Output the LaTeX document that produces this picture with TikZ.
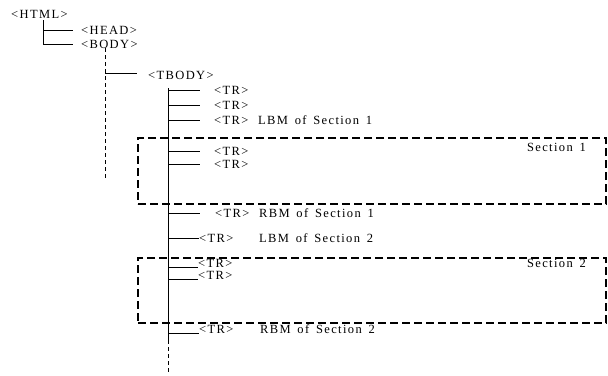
\documentclass[tikz,border=0pt]{standalone}
\usepackage{fontspec}
\setmainfont{Liberation Serif}[LetterSpace=11,WordSpace=1.5]
\begin{document}
\begin{tikzpicture}[x=1pt,y=-1pt,
  lbl/.style={anchor=west, inner sep=0pt, font=\fontsize{12.5}{14}\selectfont},
  branch/.style={line width=0.7pt},
  sect/.style={line width=2pt, dash pattern=on 8pt off 4pt},
  trunkdash/.style={line width=0.7pt, dash pattern=on 4pt off 3pt}]
\useasboundingbox (0,0) rectangle (608,375);
% texts
\node[lbl] (html) at (11,14) {<HTML>};
\node[lbl] (head) at (81,30) {<HEAD>};
\node[lbl] (body) at (81,44) {<BODY>};
\node[lbl] (tbody) at (148,75) {<TBODY>};
\node[lbl] (tr1) at (214,90) {<TR>};
\node[lbl] (tr2) at (214,105) {<TR>};
\node[lbl] (tr3) at (214,120) {<TR>};
\node[lbl] (lbm1) at (258,120) {LBM of Section 1};
\node[lbl] (tr4) at (214,151) {<TR>};
\node[lbl] (tr5) at (214,164) {<TR>};
\node[lbl] (tr6) at (215,213) {<TR>};
\node[lbl] (rbm1) at (259,213) {RBM of Section 1};
\node[lbl] (tr7) at (199,238) {<TR>};
\node[lbl] (lbm2) at (259,238) {LBM of Section 2};
\node[lbl] (tr8) at (198,263) {<TR>};
\node[lbl] (tr9) at (198,275) {<TR>};
\node[lbl] (tr10) at (199,329) {<TR>};
\node[lbl] (rbm2) at (260,329) {RBM of Section 2};
% section boxes
\node[draw, sect, anchor=north west, minimum width=468pt, minimum height=66pt, inner sep=0pt] (box1) at (137,137) {};
\node[draw, sect, anchor=north west, minimum width=468pt, minimum height=65pt, inner sep=0pt] (box2) at (137,257) {};
\node[lbl, anchor=east] (sec1) at (586,147) {Section 1};
\node[lbl, anchor=east] (sec2) at (586,263) {Section 2};
% trunk coordinates
\coordinate (htop) at (43,20);
\coordinate (bodytop) at (105,48);
\coordinate (bodyend) at (105,180);
\coordinate (tbr) at (105,73);
\coordinate (ttop) at (168,88);
\coordinate (tmid) at (168,340);
\coordinate (tend) at (168,372);
% HTML level
\draw[branch] (htop) |- ([xshift=-8pt]head.west);
\draw[branch] (htop) |- ([xshift=-8pt]body.west);
% BODY level
\draw[trunkdash] (bodytop) -- (bodyend);
\draw[branch] (tbr) -- ([xshift=-11pt]tbody.west |- tbr);
% TBODY level
\draw[branch] (ttop) -- (tmid);
\draw[trunkdash] (tmid) -- (tend);
\foreach \n in {tr1,tr2,tr3,tr4,tr5} {
  \draw[branch] (ttop |- \n.west) -- ([xshift=-14pt]\n.west);
}
\draw[branch] (ttop |- tr6.west) -- ([xshift=-15pt]tr6.west);
\draw[branch] (ttop |- tr7.west) -- (tr7.west);
\foreach \n in {tr8,tr9,tr10} {
  \draw[branch] (ttop |- \n.south west) -- (\n.south west);
}
\end{tikzpicture}
\end{document}
